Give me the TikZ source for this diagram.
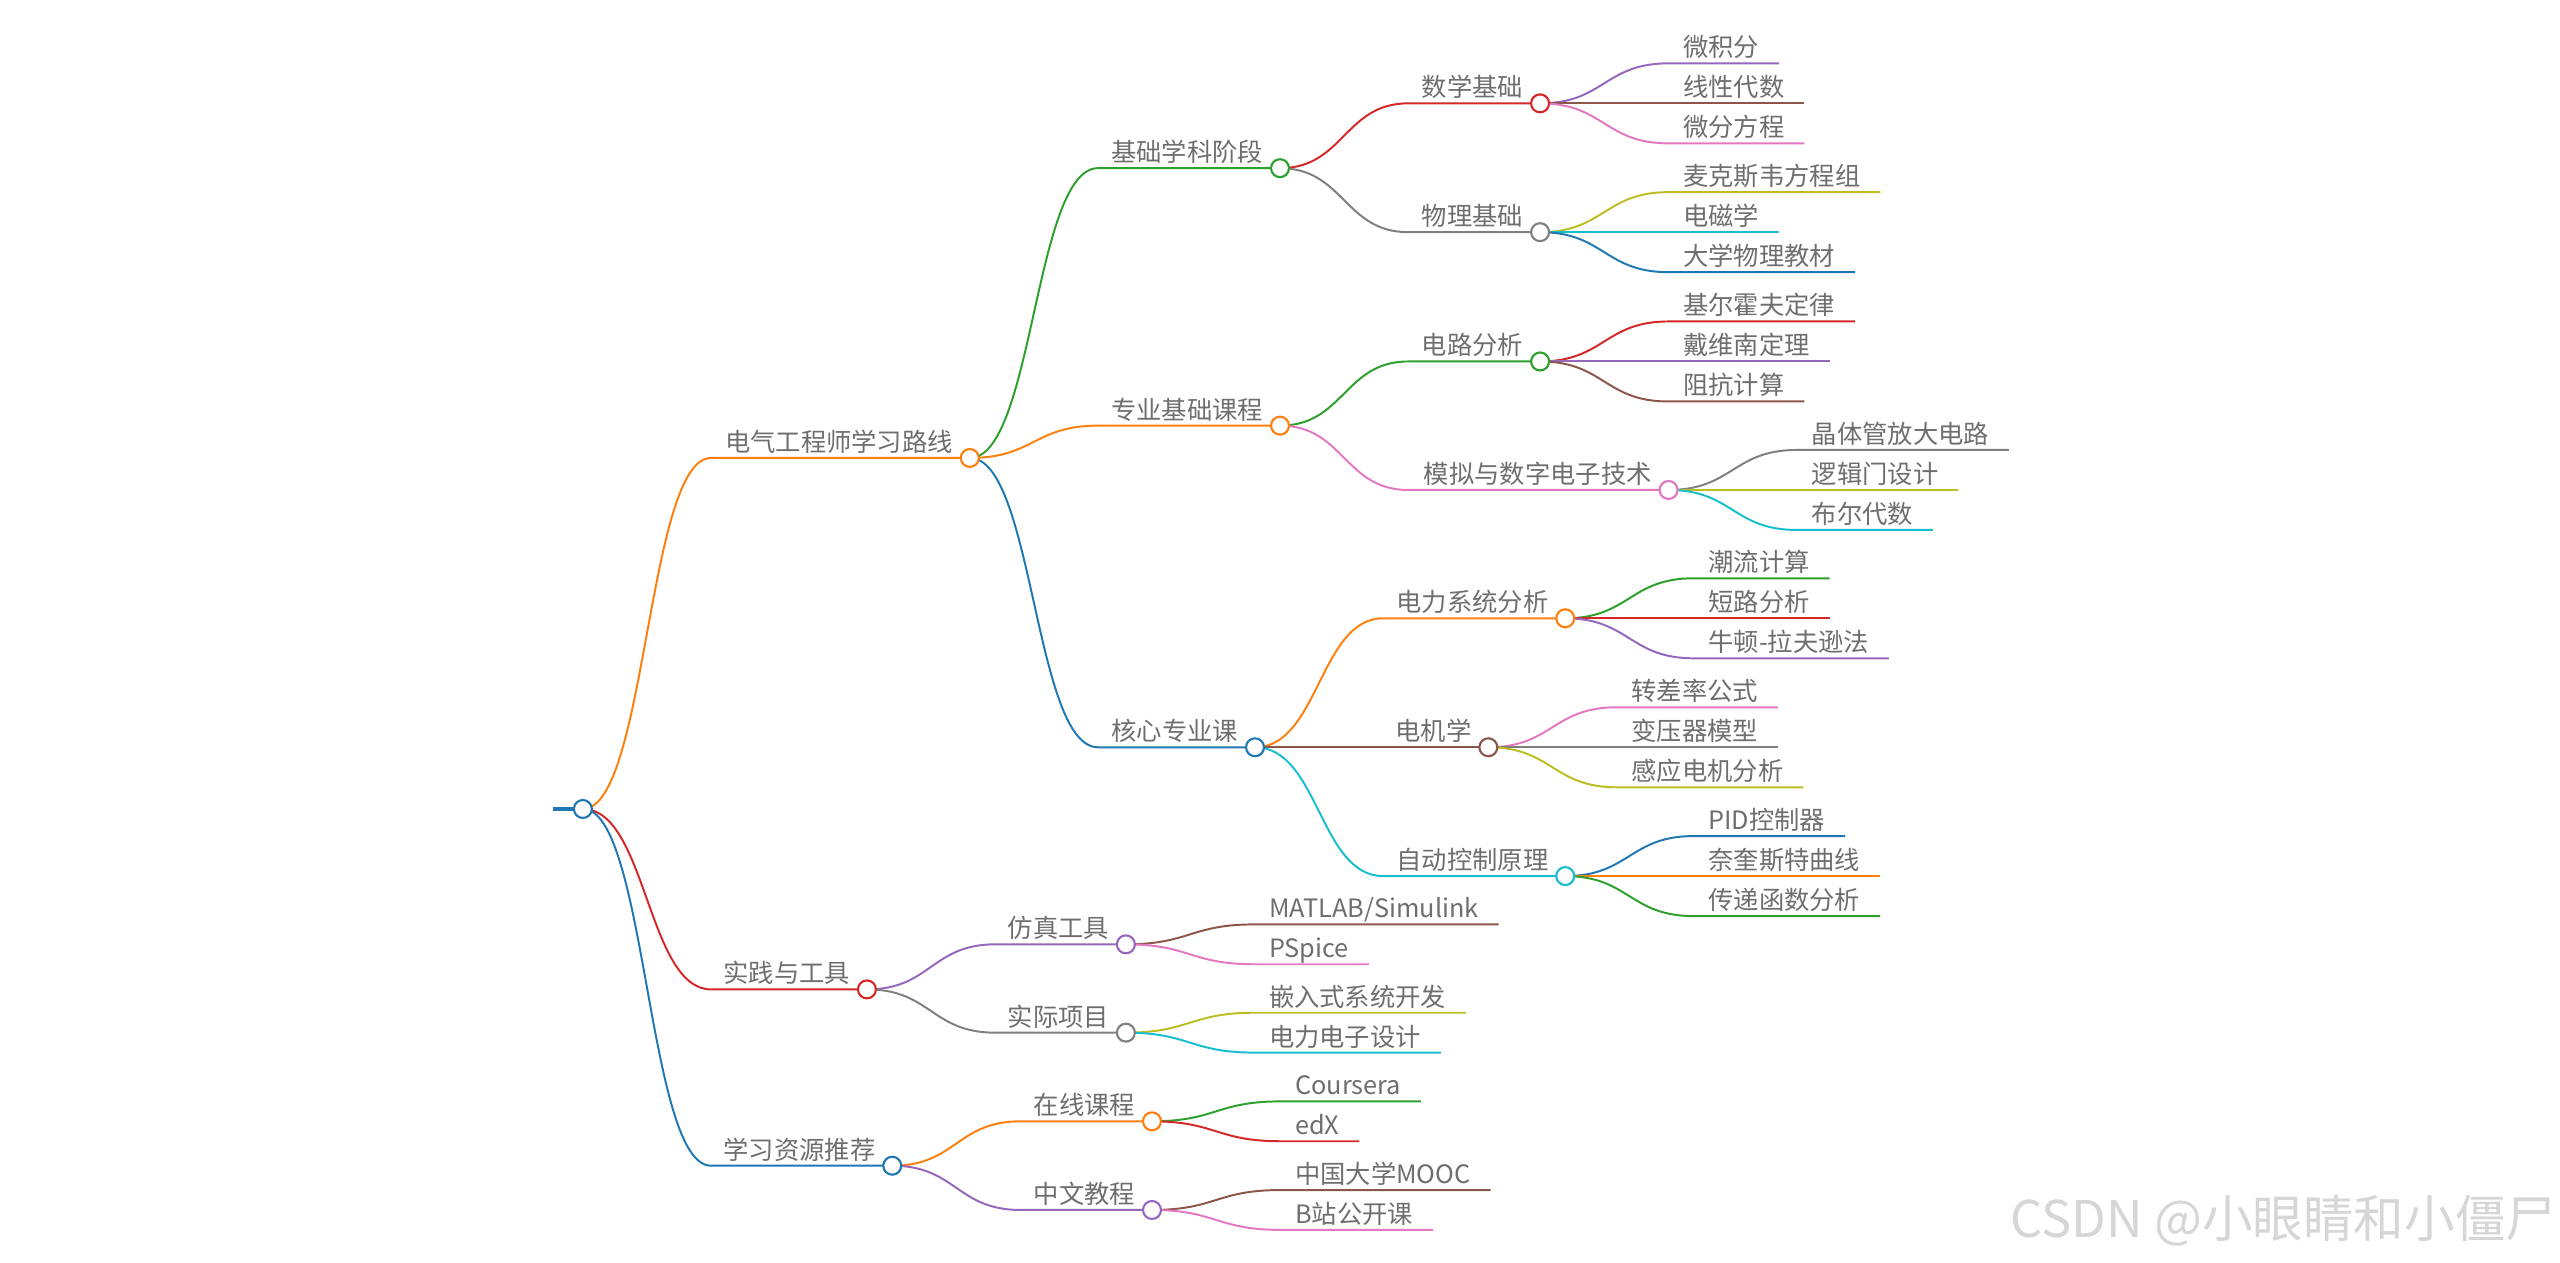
\documentclass[tikz,border=0pt]{standalone}
\usepackage{fontspec}
\newfontfamily\cjkfont{Noto Sans CJK SC}
\usetikzlibrary{calc,backgrounds}

\definecolor{mblue}{HTML}{1F77B4}
\definecolor{morange}{HTML}{FF7F0E}
\definecolor{mgreen}{HTML}{2CA02C}
\definecolor{mred}{HTML}{D62728}
\definecolor{mpurple}{HTML}{9467BD}
\definecolor{mbrown}{HTML}{8C564B}
\definecolor{mpink}{HTML}{E377C2}
\definecolor{mgray}{HTML}{7F7F7F}
\definecolor{molive}{HTML}{BCBD22}
\definecolor{mcyan}{HTML}{17BECF}
\definecolor{txtgray}{HTML}{6E6E6E}
\definecolor{wmgray}{HTML}{D6D6D6}

\tikzset{
  dot/.style={circle,draw=#1,fill=white,line width=1.3pt,minimum size=11pt,inner sep=0pt},
  edge/.style={draw=#1,line width=1.2pt},
  lbl/.style={anchor=base east,inner sep=0pt,text=txtgray,font=\cjkfont\fontsize{15.5}{18}\selectfont},
  leaf/.style={lbl,anchor=base west},
}

\begin{document}
\begin{tikzpicture}[x=1pt,y=-1pt]
\useasboundingbox (0,0) rectangle (1568,773);

% root and branch points
\node[dot=mblue] (root) at (357,495.5) {};
\coordinate (stub) at (339,495.5);
\node[dot=morange] (path) at (594,280.5) {};
\node[dot=mred] (prac) at (531,606) {};
\node[dot=mblue] (res) at (546.5,714) {};
\node[dot=mgreen] (basic) at (784,103) {};
\node[dot=morange] (major) at (784,260.7) {};
\node[dot=mblue] (core) at (768.7,457.7) {};
\node[dot=mpurple] (sim) at (689.6,578.4) {};
\node[dot=mgray] (proj) at (689.6,632.5) {};
\node[dot=morange] (online) at (705.6,686.8) {};
\node[dot=mpurple] (zh) at (705.6,741.1) {};
\node[dot=mred] (math) at (943.3,63.3) {};
\node[dot=mgray] (phys) at (943.3,142.2) {};
\node[dot=mgreen] (circ) at (943.3,221.4) {};
\node[dot=mpink] (elec) at (1022,300.1) {};
\node[dot=morange] (power) at (958.7,378.7) {};
\node[dot=mbrown] (mach) at (911.6,457.7) {};
\node[dot=mcyan] (ctrl) at (958.7,536.6) {};

% labels left of the dots
\foreach \n/\t in {path/电气工程师学习路线, prac/实践与工具, res/学习资源推荐,
    basic/基础学科阶段, major/专业基础课程, core/核心专业课, sim/仿真工具,
    proj/实际项目, online/在线课程, zh/中文教程, math/数学基础, phys/物理基础,
    circ/电路分析, elec/模拟与数字电子技术, power/电力系统分析, mach/电机学,
    ctrl/自动控制原理}
  \node[lbl] (t\n) at ([xshift=-4pt,yshift=4pt]\n.west) {\t};

\begin{scope}[on background layer]
\draw[edge=mblue,line width=2pt] (stub) -- (root);
\foreach \a/\b/\c in {root/path/morange, root/prac/mred, root/res/mblue,
    path/basic/mgreen, path/major/morange, path/core/mblue,
    prac/sim/mpurple, prac/proj/mgray, res/online/morange, res/zh/mpurple,
    basic/math/mred, basic/phys/mgray, major/circ/mgreen, major/elec/mpink,
    core/power/morange, core/mach/mbrown, core/ctrl/mcyan}
  \draw[edge=\c] let \p1=(\a.center), \p2=(\b.center) in
    (\p1) .. controls +(39pt,0pt) and +(-39pt,0pt) .. (\x1+78.5pt,\y2) -- (\p2);
\end{scope}

% leaves
\foreach \a/\dy/\c/\t [count=\i] in {
    math/-24.5/mpurple/微积分, math/0/mbrown/线性代数, math/24.5/mpink/微分方程,
    phys/-24.5/molive/麦克斯韦方程组, phys/0/mcyan/电磁学, phys/24.5/mblue/大学物理教材,
    circ/-24.5/mred/基尔霍夫定律, circ/0/mpurple/戴维南定理, circ/24.5/mbrown/阻抗计算,
    elec/-24.5/mgray/晶体管放大电路, elec/0/molive/逻辑门设计, elec/24.5/mcyan/布尔代数,
    power/-24.5/mgreen/潮流计算, power/0/mred/短路分析, power/24.5/mpurple/牛顿-拉夫逊法,
    mach/-24.5/mpink/转差率公式, mach/0/mgray/变压器模型, mach/24.5/molive/感应电机分析,
    ctrl/-24.5/mblue/PID控制器, ctrl/0/morange/奈奎斯特曲线, ctrl/24.5/mgreen/传递函数分析,
    sim/-12.2/mbrown/{MATLAB/Simulink}, sim/12.2/mpink/PSpice,
    proj/-12.2/molive/嵌入式系统开发, proj/12.2/mcyan/电力电子设计,
    online/-12.2/mgreen/Coursera, online/12.2/mred/edX,
    zh/-12.2/mbrown/中国大学MOOC, zh/12.2/mpink/B站公开课} {
  \path (\a.center) ++(78.5,\dy) coordinate (s\i);
  \node[leaf] (l\i) at ([xshift=9pt,yshift=4pt]s\i) {\t};
  \begin{scope}[on background layer]
    \draw[edge=\c] (\a.center) .. controls +(39,0) and +(-39,0) .. (s\i) -- (s\i -| l\i.east) -- ++(12,0);
  \end{scope}
}

\node[anchor=base east,inner sep=0pt,text=wmgray,font=\cjkfont\fontsize{31}{31}\selectfont] (mark) at (1566,758) {CSDN @小眼睛和小僵尸};
\end{tikzpicture}
\end{document}
